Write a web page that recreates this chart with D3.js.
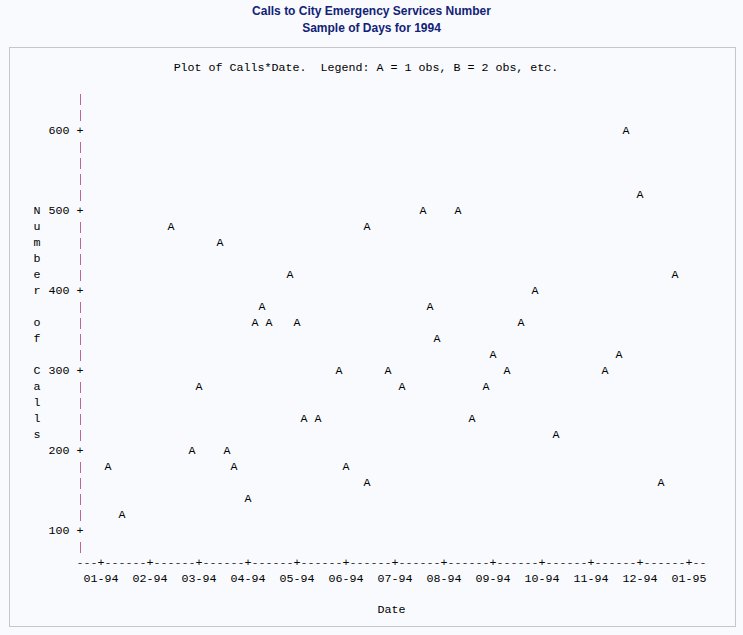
<!DOCTYPE html>
<html><head><meta charset="utf-8">
<script src="https://cdn.jsdelivr.net/npm/d3@7"></script>
<style>html,body{margin:0;padding:0;background:#f9fafd;overflow:hidden}</style>
</head><body>
<script>
const titles = ["Calls to City Emergency Services Number", "Sample of Days for 1994"];
const legendText = "Plot of Calls*Date.  Legend: A = 1 obs, B = 2 obs, etc.";
const dates = ["1994-01-05","1994-01-14","1994-02-13","1994-02-25","1994-03-01","1994-03-14","1994-03-19","1994-03-23",
  "1994-04-01","1994-04-05","1994-04-10","1994-04-14","1994-04-27","1994-05-01","1994-05-05","1994-05-14","1994-05-28",
  "1994-06-01","1994-06-14","1994-06-14","1994-06-27","1994-07-05","1994-07-19","1994-07-23","1994-07-28","1994-08-10",
  "1994-08-19","1994-08-28","1994-09-01","1994-09-10","1994-09-18","1994-09-27","1994-10-10","1994-11-10","1994-11-18",
  "1994-11-22","1994-12-01","1994-12-14","1994-12-23"];
const calls = [180,120,480,200,280,460,200,180,
  140,360,380,360,420,360,240,240,300,
  180,480,160,300,280,500,380,340,500,
  240,280,320,300,360,400,220,300,320,
  600,520,160,420];
const monthLabels = ["01-94","02-94","03-94","04-94","05-94","06-94","07-94","08-94","09-94","10-94","11-94","12-94","01-95"];
const yTicks = [100,200,300,400,500,600];
const yLabel = "Number of Calls";
const xLabel = "Date";

const W = 743, H = 635, CW = 7, ROW = 16;
const MONO = "'Liberation Mono', 'DejaVu Sans Mono', monospace";
const FS = "11.67px";

const svg = d3.select("body").append("svg").attr("width", W).attr("height", H);
svg.append("rect").attr("width", W).attr("height", H).attr("fill", "#f9fafd");

// titles
svg.selectAll("text.title").data(titles).join("text")
  .attr("x", W / 2).attr("y", (d, i) => 15 + i * 17)
  .attr("text-anchor", "middle")
  .attr("font-family", "'Liberation Sans', Arial, sans-serif")
  .attr("font-size", "12px").attr("font-weight", "bold")
  .attr("fill", "#112277").text(d => d);

// frame
svg.append("rect").attr("x", 9.5).attr("y", 47.5).attr("width", 726).attr("height", 579)
  .attr("fill", "none").attr("stroke", "#c6c6c6");

// month fraction
const parse = d3.timeParse("%Y-%m-%d");
function monthFrac(s) {
  const d = parse(s);
  const m = (d.getFullYear() - 1994) * 12 + d.getMonth();
  const days = new Date(d.getFullYear(), d.getMonth() + 1, 0).getDate();
  const f = m + (d.getDate() - 1) / days;
  return Math.round(f * 7) / 7; // line-printer grid: 7 columns per month
}

const x = d3.scaleLinear().domain([0, 12]).range([101, 689]);
const y = d3.scaleLinear().domain([100, 600]).range([530, 130]);
const axisX = x(0) - 3 * CW;
const axisY = y(60);

const mono = sel => sel.attr("font-family", MONO).attr("font-size", FS).attr("fill", "#000");

svg.append("text").call(mono).attr("x", 366).attr("y", 71)
  .attr("text-anchor", "middle").style("white-space", "pre").text(legendText);

// vertical axis rows
const rows = d3.range(80, 641, 20);
const g = svg.append("g");
rows.forEach(v => {
  const yy = y(v);
  if (yTicks.includes(v)) {
    g.append("text").call(mono).attr("x", axisX).attr("y", yy + 4).attr("text-anchor", "middle").text("+");
    g.append("text").call(mono).attr("x", axisX - 10.5).attr("y", yy + 4).attr("text-anchor", "end").text(v);
  } else {
    g.append("line").attr("x1", axisX + 0.5).attr("x2", axisX + 0.5)
      .attr("y1", yy - 4).attr("y2", yy + 7).attr("stroke", "#c0649a").attr("stroke-width", 1);
  }
});

// y label, vertical letters
const chars = yLabel.split("");
svg.selectAll("text.ylab").data(chars).join("text").call(mono)
  .attr("x", 37).attr("y", (d, i) => y(500) + i * ROW + 4)
  .attr("text-anchor", "middle").text(d => d);

// horizontal axis row
const cols = d3.range(-3, 12 * 7 + 3);
svg.selectAll("text.hx").data(cols).join("text").call(mono)
  .attr("x", c => x(c / 7)).attr("y", axisY + 4)
  .attr("text-anchor", "middle")
  .attr("fill", c => (c >= 0 && c % 7 === 0) ? "#000" : "#333")
  .text(c => (c >= 0 && c % 7 === 0) ? "+" : "-");

svg.selectAll("text.mlab").data(monthLabels).join("text").call(mono)
  .attr("x", (d, i) => x(i)).attr("y", axisY + 20)
  .attr("text-anchor", "middle").text(d => d);

svg.append("text").call(mono).attr("x", (axisX + x(12) + 2 * CW) / 2).attr("y", axisY + 51)
  .attr("text-anchor", "middle").text(xLabel);

// points
svg.selectAll("text.pt").data(dates).join("text").call(mono)
  .attr("x", (d, i) => x(monthFrac(d)))
  .attr("y", (d, i) => y(calls[i]) + 4)
  .attr("text-anchor", "middle").text("A");
</script>
</body></html>
